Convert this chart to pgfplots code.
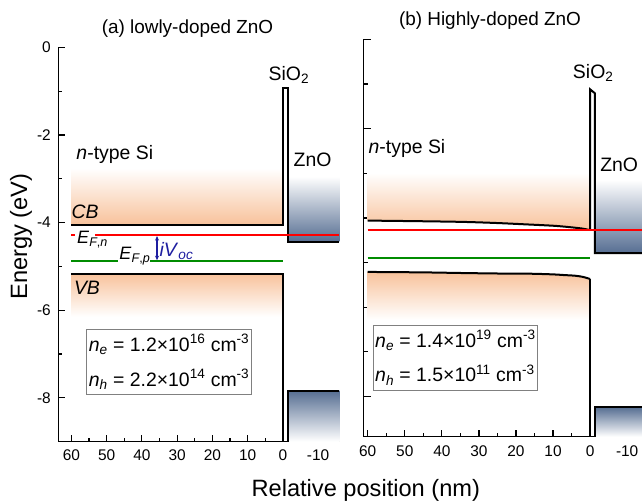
\documentclass[border=0pt]{standalone}
\usepackage{fontspec}
\setmainfont{Liberation Sans}
\usepackage{pgfplots}
\pgfplotsset{compat=1.18}
\usetikzlibrary{arrows.meta}
\definecolor{orangeC}{RGB}{248,194,155}
\definecolor{blueC}{RGB}{86,110,146}
\definecolor{greenC}{RGB}{0,140,0}
\definecolor{navyC}{RGB}{30,30,160}
\newcommand\lab{\fontsize{19.5}{23}\selectfont}
\pgfplotsset{
  bandaxis/.style={
    scale only axis, clip=false,
    x dir=reverse,
    axis x line*=bottom, axis y line*=left,
    axis line style={line width=1.5bp, -},
    tick style={line width=1.2bp, black},
    major tick length=7bp, minor tick length=4bp,
    tick align=inside,
    xtick={60,50,40,30,20,10,0,-10},
    xticklabels={60,50,40,30,20,10,0,-10},
    minor xtick={55,45,35,25,15,5,-5,-15},
    ytick={-8,-6,-4,-2,0},
    minor ytick={-9,-7,-5,-3,-1},
    ticklabel style={font=\fontsize{15.5}{18}\selectfont},
    xticklabel style={yshift=-5bp},
    yticklabel style={xshift=-4bp},
  },
}
\tikzset{
  boxnode/.style={anchor=north west, draw=gray, line width=1bp, fill=white,
    inner xsep=2bp, inner ysep=5bp, align=left, font=\fontsize{19.5}{35}\selectfont},
  dblarrow/.style={{Stealth[length=4.5bp,width=4bp]}-{Stealth[length=4.5bp,width=4bp]}},
}
\begin{document}
\begin{tikzpicture}
\useasboundingbox (0,0) rectangle (642bp,502bp);
% ---------------- panel (a)
\begin{axis}[bandaxis, at={(58.3bp,60.5bp)}, anchor=south west,
  width=281bp, height=394.2bp,
  xmin=-16, xmax=63.7, ymin=-9, ymax=0,
  yticklabels={-8,-6,-4,-2,0}]
\addplot[color=greenC, line width=2bp] coordinates {(60,-4.88) (46.8,-4.88)};
\addplot[color=greenC, line width=2bp] coordinates {(37.6,-4.88) (0,-4.88)};
\addplot[draw=none, top color=white, bottom color=orangeC] coordinates {(60,-4.05) (0,-4.05) (0,-2.76) (60,-2.76)};
\addplot[draw=none, top color=orangeC, bottom color=white] coordinates {(60,-5.17) (0,-5.17) (0,-6.15) (60,-6.15)};
\addplot[draw=none, top color=white, bottom color=blueC] coordinates {(-1.5,-4.44) (-16,-4.44) (-16,-2.95) (-1.5,-2.95)};
\addplot[draw=none, top color=blueC, bottom color=white] coordinates {(-1.5,-7.84) (-16,-7.84) (-16,-9) (-1.5,-9)};
\addplot[black, line width=2bp] coordinates {(60,-4.05) (0,-4.05) (0,-0.94) (-1.5,-0.94) (-1.5,-4.44) (-16,-4.44)};
\addplot[black, line width=2bp] coordinates {(60,-5.17) (0,-5.17) (0,-9)};
\addplot[black, line width=2bp] coordinates {(-1.5,-9) (-1.5,-7.84) (-16,-7.84)};
\addplot[red, line width=1.8bp] coordinates {(60,-4.29) (58.9,-4.29)};
\addplot[red, line width=1.8bp] coordinates {(53.3,-4.29) (-16,-4.29)};
\node[anchor=base west, inner sep=0] at (axis cs:58.6,-2.57) {\lab\textit{n}-type Si};
\node[anchor=base west, inner sep=0] at (axis cs:60,-3.90) {\lab\textit{CB}};
\node[anchor=base west, inner sep=0] at (axis cs:59.3,-5.655) {\lab\textit{VB}};
\node[anchor=base west, inner sep=0] at (axis cs:4.08,-0.747) {\lab SiO\textsubscript{2}};
\node[anchor=base west, inner sep=0] at (axis cs:-3.0,-2.726) {\lab ZnO};
\node[anchor=base west, inner sep=0] at (axis cs:58.4,-4.475) {\fontsize{18}{20}\selectfont\textit{E}\textsubscript{\textit{F},\textit{n}}};
\node[anchor=base west, inner sep=0] at (axis cs:46.4,-4.856) {\fontsize{18}{20}\selectfont\textit{E}\textsubscript{\textit{F},\textit{p}}};
\node[anchor=base west, inner sep=0, text=navyC] at (axis cs:35.0,-4.78) {\lab\textit{iV}\textsubscript{\textit{oc}}};
\node[boxnode] at (axis cs:55.75,-6.43) {\textit{n}\textsubscript{\textit{e}} = 1.2×10\textsuperscript{16} cm\textsuperscript{-3}\\ \textit{n}\textsubscript{\textit{h}} = 2.2×10\textsuperscript{14} cm\textsuperscript{-3}};
\draw[navyC, line width=1.2bp, dblarrow] (axis cs:35.7,-4.31) -- (axis cs:35.7,-4.86);
\draw[draw=greenC, line width=2bp] (axis cs:60,-4.88) -- (axis cs:46.8,-4.88);
\draw[draw=greenC, line width=2bp] (axis cs:37.6,-4.88) -- (axis cs:0,-4.88);
\end{axis}
% ---------------- panel (b)
\begin{axis}[bandaxis, at={(363.7bp,65.3bp)}, anchor=south west,
  width=278.3bp, height=397.4bp,
  xmin=-14, xmax=61.08, ymin=-8.9, ymax=0,
  yticklabels={{},{},{},{},{}}]
\addplot[draw=none, top color=white, bottom color=orangeC] coordinates {(60,-4.06) (45,-4.075) (34,-4.09) (25,-4.115) (16,-4.15) (10,-4.175) (7,-4.195) (4,-4.22) (2,-4.24) (0.5,-4.265) (0,-4.27) (0,-2.99) (60,-2.99)};
\addplot[draw=none, top color=orangeC, bottom color=white] coordinates {(60,-5.21) (45,-5.22) (34,-5.235) (25,-5.245) (16,-5.25) (10,-5.265) (7,-5.28) (4,-5.295) (2,-5.32) (0.7,-5.35) (0,-5.37) (0,-6.28) (60,-6.28)};
\addplot[draw=none, top color=white, bottom color=blueC] coordinates {(-1.3,-4.79) (-14,-4.79) (-14,-3.15) (-1.3,-3.15)};
\addplot[draw=none, top color=blueC, bottom color=white] coordinates {(-1.4,-8.24) (-14,-8.24) (-14,-8.9) (-1.4,-8.9)};
\addplot[black, line width=2bp, smooth] coordinates {(60,-4.06) (45,-4.075) (34,-4.09) (25,-4.115) (16,-4.15) (10,-4.175) (7,-4.195) (4,-4.22) (2,-4.24) (0.5,-4.265) (0,-4.27)};
\addplot[black, line width=2bp] coordinates {(0,-4.27) (0,-1.12) (-1.3,-1.21) (-1.3,-4.79) (-14,-4.79)};
\addplot[black, line width=2bp, smooth] coordinates {(60,-5.21) (45,-5.22) (34,-5.235) (25,-5.245) (16,-5.25) (10,-5.265) (7,-5.28) (4,-5.295) (2,-5.32) (0.7,-5.35) (0,-5.37)};
\addplot[black, line width=2bp] coordinates {(0,-5.37) (0,-8.9)};
\addplot[black, line width=2bp] coordinates {(-1.4,-8.9) (-1.4,-8.24) (-14,-8.24)};
\addplot[red, line width=1.8bp] coordinates {(60,-4.27) (-14,-4.27)};
\addplot[color=greenC, line width=1.8bp] coordinates {(60,-4.90) (0,-4.90)};
\node[anchor=base west, inner sep=0] at (axis cs:59.8,-2.55) {\lab\textit{n}-type Si};
\node[anchor=base west, inner sep=0] at (axis cs:4.67,-0.872) {\lab SiO\textsubscript{2}};
\node[anchor=base west, inner sep=0] at (axis cs:-2.7,-2.96) {\lab ZnO};
\node[boxnode] at (axis cs:58.65,-6.39) {\textit{n}\textsubscript{\textit{e}} = 1.4×10\textsuperscript{19} cm\textsuperscript{-3}\\ \textit{n}\textsubscript{\textit{h}} = 1.5×10\textsuperscript{11} cm\textsuperscript{-3}};
\end{axis}
% titles and axis labels
\node[anchor=base] at (187.5bp,468.7bp) {\fontsize{19}{22}\selectfont (a) lowly-doped ZnO};
\node[anchor=base] at (490bp,476bp) {\fontsize{19}{22}\selectfont (b) Highly-doped ZnO};
\node[rotate=90] at (21bp,265.5bp) {\fontsize{23.7}{28}\selectfont Energy (eV)};
\node at (365.8bp,12bp) {\fontsize{23.7}{28}\selectfont Relative position (nm)};
\end{tikzpicture}
\end{document}
